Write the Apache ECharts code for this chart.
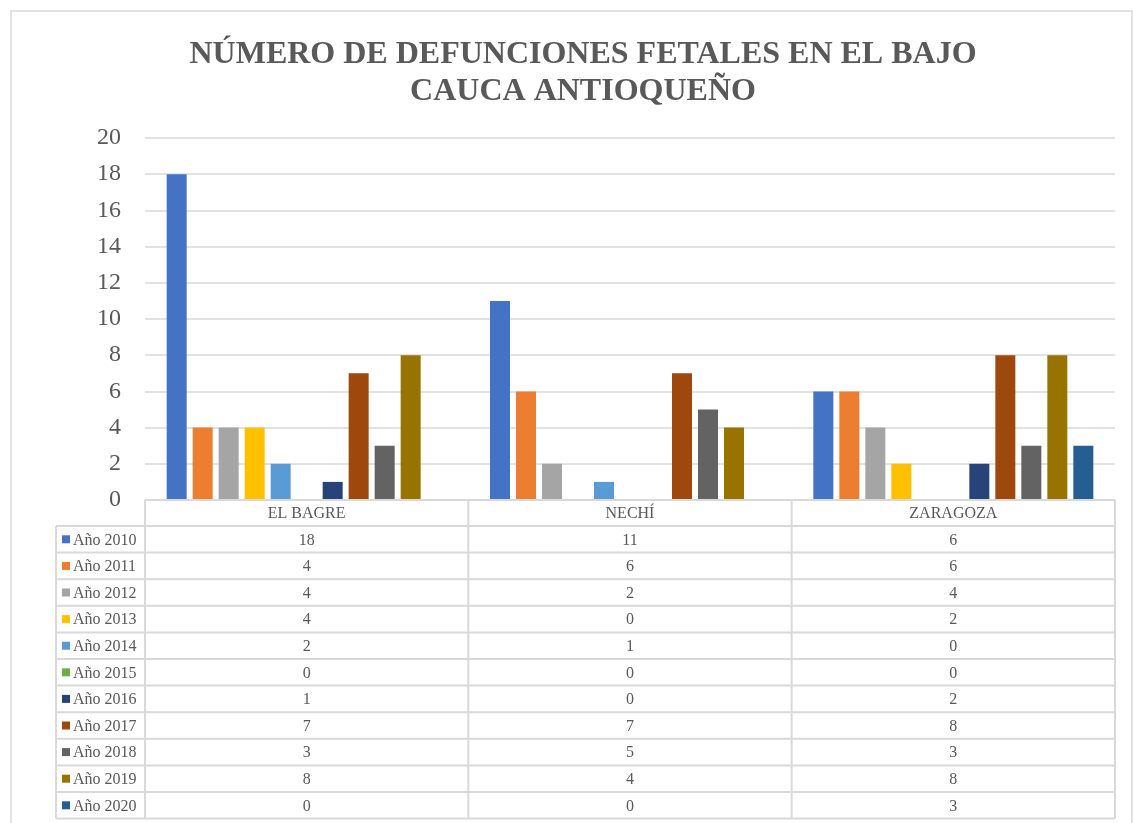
<!DOCTYPE html>
<html>
<head>
<meta charset="utf-8">
<script src="https://cdn.jsdelivr.net/npm/echarts@6/dist/echarts.min.js"></script>
<style>
  html, body { margin: 0; padding: 0; background: #fff; }
  #chart { width: 1133px; height: 823px; }
</style>
</head>
<body>
<div id="chart"></div>
<script>
  const municipios = ['EL BAGRE', 'NECHÍ', 'ZARAGOZA'];
  const anios = ['Año 2010', 'Año 2011', 'Año 2012', 'Año 2013', 'Año 2014', 'Año 2015',
                 'Año 2016', 'Año 2017', 'Año 2018', 'Año 2019', 'Año 2020'];
  const a2010 = [18, 11, 6];
  const a2011 = [4, 6, 6];
  const a2012 = [4, 2, 4];
  const a2013 = [4, 0, 2];
  const a2014 = [2, 1, 0];
  const a2015 = [0, 0, 0];
  const a2016 = [1, 0, 2];
  const a2017 = [7, 7, 8];
  const a2018 = [3, 5, 3];
  const a2019 = [8, 4, 8];
  const a2020 = [0, 0, 3];
  const yTicks = [0, 2, 4, 6, 8, 10, 12, 14, 16, 18, 20];

  const valores = [a2010, a2011, a2012, a2013, a2014, a2015, a2016, a2017, a2018, a2019, a2020];
  const colores = ['#4472C4', '#ED7D31', '#A5A5A5', '#FFC000', '#5B9BD5', '#70AD47',
                   '#264478', '#9E480E', '#636363', '#997300', '#255E91'];

  const W = 1133, H = 823;
  const gLeft = 145, gRight = 1115, gTop = 138, gBottom = 500;
  const headH = 26, rowH = 26.6, keyLeft = 56;
  const txt = '#595959', borde = '#d9d9d9';
  const serif = '"Liberation Serif", "Times New Roman", serif';

  // tabla de datos debajo del gráfico
  const graphic = [];
  const colW = (gRight - gLeft) / municipios.length;
  const tableBottom = gBottom + headH + rowH * anios.length;
  const line = (x1, y1, x2, y2) => graphic.push({
    type: 'line', shape: { x1, y1, x2, y2 }, style: { stroke: borde, lineWidth: 2 }, z: 10
  });
  // horizontales
  line(gLeft, gBottom, gRight, gBottom);
  for (let i = 0; i <= anios.length; i++) {
    const y = gBottom + headH + rowH * i;
    line(keyLeft, y, gRight, y);
  }
  // verticales
  line(keyLeft, gBottom + headH, keyLeft, tableBottom);
  for (let j = 0; j <= municipios.length; j++) {
    const x = gLeft + colW * j;
    line(x, gBottom, x, tableBottom);
  }
  municipios.forEach((m, j) => {
    graphic.push({
      type: 'text', x: gLeft + colW * (j + 0.5), y: gBottom + headH / 2 + 1,
      style: { text: m, fill: txt, font: '16px ' + serif, align: 'center', verticalAlign: 'middle' }
    });
  });
  anios.forEach((a, i) => {
    const yc = gBottom + headH + rowH * (i + 0.5);
    graphic.push({
      type: 'rect', shape: { x: 62, y: yc - 4, width: 8, height: 8 }, style: { fill: colores[i] }
    });
    graphic.push({
      type: 'text', x: 73, y: yc + 1,
      style: { text: a, fill: txt, font: '16px ' + serif, align: 'left', verticalAlign: 'middle' }
    });
    valores[i].forEach((v, j) => {
      graphic.push({
        type: 'text', x: gLeft + colW * (j + 0.5), y: yc + 1,
        style: { text: String(v), fill: txt, font: '16px ' + serif, align: 'center', verticalAlign: 'middle' }
      });
    });
  });
  // marco exterior
  graphic.push({
    type: 'rect', shape: { x: 11, y: 11, width: 1121, height: 830 },
    style: { fill: 'none', stroke: borde, lineWidth: 1.5 }, z: 11
  });

  const option = {
    backgroundColor: '#fff',
    title: {
      text: 'NÚMERO DE DEFUNCIONES FETALES EN EL BAJO\nCAUCA ANTIOQUEÑO',
      left: 578, top: 31, textAlign: 'center',
      textStyle: { fontFamily: serif, fontWeight: 'bold', fontSize: 32, color: txt, lineHeight: 37 }
    },
    grid: { left: gLeft, right: W - gRight, top: gTop, bottom: H - gBottom, containLabel: false },
    xAxis: {
      type: 'category',
      data: municipios,
      axisLine: { show: false },
      axisTick: { show: false },
      axisLabel: { show: false }
    },
    yAxis: {
      type: 'value',
      min: yTicks[0],
      max: yTicks[yTicks.length - 1],
      interval: 2,
      axisLine: { show: false },
      axisTick: { show: false },
      axisLabel: { fontFamily: serif, fontSize: 24, color: txt, margin: 24 },
      splitLine: { lineStyle: { color: borde, width: 1.5 } }
    },
    series: anios.map((a, i) => ({
      name: a,
      type: 'bar',
      data: valores[i],
      barWidth: 20,
      barGap: '30%',
      itemStyle: { color: colores[i] }
    })),
    graphic: graphic
  };

  const chart = echarts.init(document.getElementById('chart'), null, { renderer: 'canvas' });
  chart.setOption(option);
</script>
</body>
</html>
